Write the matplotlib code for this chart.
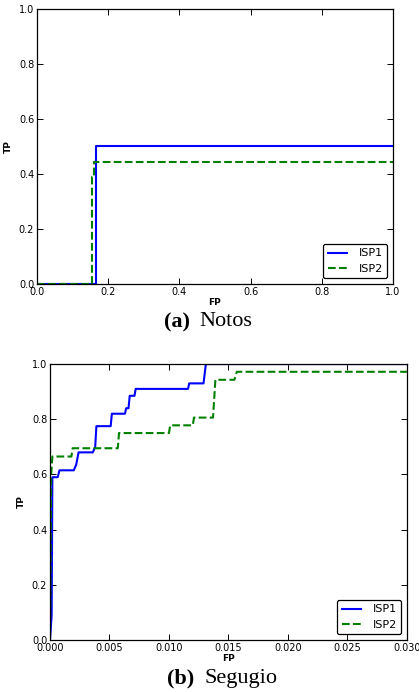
import matplotlib
matplotlib.use("Agg")
import matplotlib.pyplot as plt

# (a) Notos
notos_isp1_fp = [0.0, 0.165, 0.165, 1.0]
notos_isp1_tp = [0.0, 0.0, 0.5, 0.5]
notos_isp2_fp = [0.0, 0.155, 0.155, 0.16, 0.16, 1.0]
notos_isp2_tp = [0.0, 0.0, 0.39, 0.39, 0.444, 0.444]

# (b) Segugio
seg_isp1_fp = [0.0, 0.00014, 0.0002, 0.00065, 0.0008, 0.002, 0.0022, 0.0024,
               0.0036, 0.0038, 0.0039, 0.0051, 0.0052, 0.0063, 0.0064, 0.0066,
               0.0067, 0.0071, 0.0072, 0.0116, 0.0117, 0.0129, 0.0131, 0.03]
seg_isp1_tp = [0.0, 0.09, 0.59, 0.59, 0.615, 0.615, 0.635, 0.68,
               0.68, 0.70, 0.775, 0.775, 0.82, 0.82, 0.84, 0.84,
               0.885, 0.885, 0.91, 0.91, 0.93, 0.93, 1.0, 1.0]
seg_isp2_fp = [0.0, 0.0001, 0.0002, 0.0018, 0.0019, 0.0057, 0.0058, 0.0100,
               0.0101, 0.0120, 0.0121, 0.0137, 0.0139, 0.0155, 0.0157, 0.03]
seg_isp2_tp = [0.0, 0.6, 0.665, 0.665, 0.695, 0.695, 0.75, 0.75,
               0.778, 0.778, 0.806, 0.806, 0.943, 0.943, 0.972, 0.972]

fig = plt.figure(figsize=(4.19, 6.92), dpi=100)
ax1 = fig.add_axes([0.0883, 0.5896, 0.8496, 0.3974])
ax2 = fig.add_axes([0.1193, 0.0751, 0.852, 0.3988])


def style(ax, xticks, xfmt):
    ax.tick_params(direction="in", top=True, right=True, length=4, width=0.7,
                   labelsize=7, pad=2)
    ax.set_ylim(0, 1)
    ax.set_yticks([0.0, 0.2, 0.4, 0.6, 0.8, 1.0])
    ax.set_xticks(xticks)
    ax.set_xticklabels([xfmt.format(t) for t in xticks])
    ax.set_xlabel("FP", fontsize=6.5, fontweight="bold", labelpad=1)
    ax.set_ylabel("TP", fontsize=6.5, fontweight="bold", labelpad=4)
    for s in ax.spines.values():
        s.set_linewidth(0.9)
    leg = ax.legend(loc="lower right", fontsize=8, handlelength=1.7,
                    fancybox=True, framealpha=1, borderpad=0.4,
                    handletextpad=1.1)
    leg.get_frame().set_edgecolor("black")
    leg.get_frame().set_linewidth(0.9)


ax1.plot(notos_isp1_fp, notos_isp1_tp, color="blue", lw=1.5, label="ISP1")
ax1.plot(notos_isp2_fp, notos_isp2_tp, color="green", lw=1.5, ls="--", label="ISP2")
ax1.set_xlim(0, 1)
style(ax1, [0.0, 0.2, 0.4, 0.6, 0.8, 1.0], "{:.1f}")

ax2.plot(seg_isp1_fp, seg_isp1_tp, color="blue", lw=1.5, label="ISP1")
ax2.plot(seg_isp2_fp, seg_isp2_tp, color="green", lw=1.5, ls="--", label="ISP2")
ax2.set_xlim(0, 0.03)
style(ax2, [0.0, 0.005, 0.01, 0.015, 0.02, 0.025, 0.03], "{:.3f}")

# captions
serif = ["Liberation Serif", "DejaVu Serif"]
fig.text(190 / 419, 1 - 322 / 692, "(a)", fontsize=16, fontweight="bold",
         ha="right", va="center", family=serif)
fig.text(199 / 419, 1 - 322 / 692, "Notos", fontsize=16, ha="left",
         va="center", family=serif)
fig.text(194 / 419, 1 - 678 / 692, "(b)", fontsize=16, fontweight="bold",
         ha="right", va="center", family=serif)
fig.text(204 / 419, 1 - 678 / 692, "Segugio", fontsize=16, ha="left",
         va="center", family=serif)

fig.savefig("out.png", dpi=100)
